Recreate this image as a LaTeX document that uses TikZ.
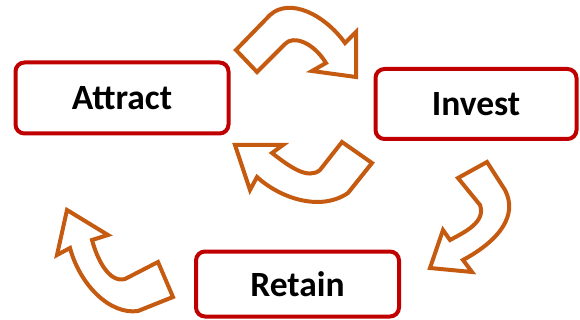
\documentclass[tikz,border=0pt]{standalone}
\usepackage{fontspec}
\setmainfont{Carlito}
\definecolor{boxred}{HTML}{C00000}
\definecolor{arrowbrown}{HTML}{C55A11}

\begin{document}
\begin{tikzpicture}[x=1pt,y=-1pt,
  stage/.style={draw=boxred,line width=4pt,rounded corners=9pt,fill=white,
    font=\fontsize{35.5}{40}\selectfont\bfseries,inner sep=0pt},
  bendarrow/.style={draw=arrowbrown,line width=4pt,fill=white,line join=miter}]
\useasboundingbox (0,0) rectangle (580,320);

\node[stage,minimum width=213pt,minimum height=71pt] (attract) at (122,98) {Attract};
\node[stage,minimum width=201pt,minimum height=70pt] (invest) at (476,104) {Invest};
\node[stage,minimum width=203pt,minimum height=65pt] (retain) at (297.5,284) {Retain};

% attract -> invest
\draw[bendarrow] (236,50) -- (270,15) .. controls (290,-3) and (325,15) .. (345,43)
  -- (356,32) -- (356,77) -- (312,71) -- (326,63)
  .. controls (313,42) and (293,35) .. (285,44) -- (257,72) -- cycle;
% invest -> retain
\draw[bendarrow] (458,178) -- (487,162) -- (505,190)
  .. controls (518,215) and (500,240) .. (463,260)
  -- (472,272) -- (430,268) -- (443,230) -- (450,240)
  .. controls (465,232) and (486,222) .. (480,205) -- cycle;
% retain -> attract
\draw[bendarrow] (67,210) -- (108,235) -- (92,240)
  .. controls (98,262) and (110,283) .. (125,279) -- (158,262) -- (173,297) -- (138,311)
  .. controls (110,315) and (80,285) .. (70,248) -- (57,255) -- cycle;
% invest -> attract
\draw[bendarrow] (235,145) -- (283,145) -- (272,153)
  .. controls (290,167) and (308,180) .. (320,170) -- (342,142) -- (372,163) -- (348,193)
  .. controls (320,212) and (280,198) .. (257,177) -- (250,190) -- cycle;
\end{tikzpicture}
\end{document}
